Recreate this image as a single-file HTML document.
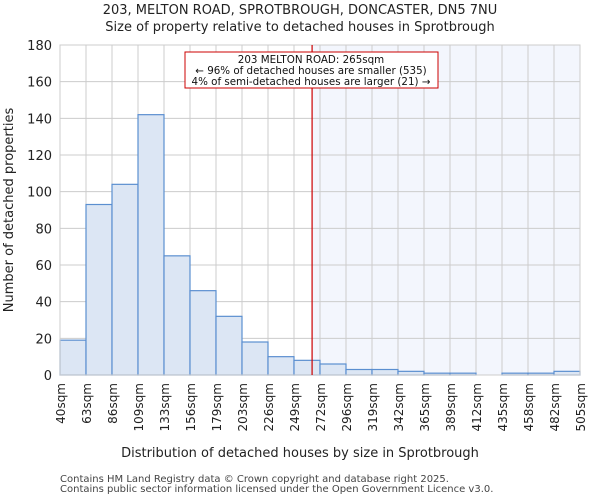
<!DOCTYPE html>
<html><head><meta charset="utf-8"><style>
body{margin:0;background:#fff;font-family:"DejaVu Sans","Liberation Sans",sans-serif}
</style></head><body>
<svg id="c" width="600" height="500" xmlns="http://www.w3.org/2000/svg" font-family="DejaVu Sans, Liberation Sans, sans-serif"></svg>
<script>
const binLabels=["40sqm","63sqm","86sqm","109sqm","133sqm","156sqm","179sqm","203sqm","226sqm","249sqm","272sqm","296sqm","319sqm","342sqm","365sqm","389sqm","412sqm","435sqm","458sqm","482sqm","505sqm"];
const binEdges=[40,63,86,109,133,156,179,203,226,249,272,296,319,342,365,389,412,435,458,482,505];
const counts=[19,93,104,142,65,46,32,18,10,8,6,3,3,2,1,1,0,1,1,2];
const yTicks=[0,20,40,60,80,100,120,140,160,180];
const propertySize=265;
const L=60,R=580,T=45,B=375,yMax=180;
const svg=document.getElementById('c');const NS='http://www.w3.org/2000/svg';
function el(t,a,p){const e=document.createElementNS(NS,t);for(const k in a)e.setAttribute(k,a[k]);(p||svg).appendChild(e);return e;}
const bw=(R-L)/counts.length;
function xi(i){return L+i*bw;}
function xv(v){let i=0;while(i<binEdges.length-2&&v>binEdges[i+1])i++;return xi(i)+(v-binEdges[i])/(binEdges[i+1]-binEdges[i])*bw;}
function y(v){return B-v/yMax*(B-T);}
const px=xv(propertySize);
let e=el('rect',{x:px,y:T,width:R-px,height:B-T,fill:'#f3f6fd'});

yTicks.forEach(t=>{let g=el('line',{x1:L,x2:R,y1:y(t),y2:y(t),stroke:'#cccccc'});
let tx=el('text',{x:L-8,y:y(t)+5,'text-anchor':'end','font-size':13,fill:'#222'});tx.textContent=t;});
binLabels.forEach((lb,i)=>{let g=el('line',{x1:xi(i),x2:xi(i),y1:T,y2:B,stroke:'#cccccc'});
let tx=el('text',{transform:`translate(${xi(i)+5},${B+8}) rotate(-90)`,'text-anchor':'end','font-size':12,fill:'#222'});tx.textContent=lb;});
counts.forEach((c,i)=>{let r=el('rect',{x:xi(i),y:y(c),width:bw,height:B-y(c),fill:'#dce6f4',stroke:'#5b8fd0','stroke-width':1.2});});
e=el('rect',{x:L,y:T,width:R-L,height:B-T,fill:'none',stroke:'#cccccc'});
e=el('line',{x1:px,x2:px,y1:T,y2:B,stroke:'#cc0000','stroke-width':1.2});
e=el('rect',{x:185,y:52,width:253,height:36,fill:'#fff',stroke:'#cc0000'});
["203 MELTON ROAD: 265sqm","← 96% of detached houses are smaller (535)","4% of semi-detached houses are larger (21) →"].forEach((s,i)=>{let t=el('text',{x:311,y:63+i*11,'text-anchor':'middle','font-size':10.3,fill:'#111'});t.textContent=s;});
[["203, MELTON ROAD, SPROTBROUGH, DONCASTER, DN5 7NU",14,'chart-title'],["Size of property relative to detached houses in Sprotbrough",31,'chart-subtitle']].forEach(a=>{let t=el('text',{x:300,y:a[1],'text-anchor':'middle','font-size':13,fill:'#222'});t.textContent=a[0];});
e=el('text',{x:300,y:457,'text-anchor':'middle','font-size':13,fill:'#222'});e.textContent="Distribution of detached houses by size in Sprotbrough";
e=el('text',{transform:'translate(13,210) rotate(-90)','text-anchor':'middle','font-size':13,fill:'#222'});e.textContent="Number of detached properties";
["Contains HM Land Registry data © Crown copyright and database right 2025.","Contains public sector information licensed under the Open Government Licence v3.0."].forEach((s,i)=>{let t=el('text',{x:60,y:482+i*10,'font-size':10,fill:'#444'});t.textContent=s;});
</script></body></html>
